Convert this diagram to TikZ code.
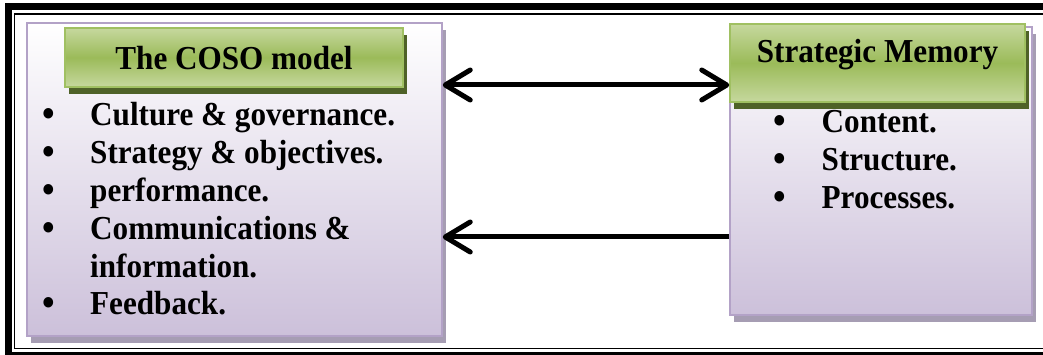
\documentclass[tikz,border=0pt]{standalone}
\usepackage{fontspec}
\setmainfont{Liberation Serif}[FakeStretch=0.93]
\usetikzlibrary{arrows.meta, shadows}

\newcommand\bul{\makebox[48pt][l]{\raisebox{-1pt}{\scalebox{1.15}{\textbullet}}}}

\begin{document}
\begin{tikzpicture}
  [x=1pt, y=-1pt,
    >={Straight Barb[length=25pt, width=30pt, round]},
    every node/.style={font=\fontsize{33.5}{37.8}\selectfont\bfseries}]

    \definecolor{lilac}{RGB}{204,192,218}
    \definecolor{lilacline}{RGB}{179,162,199}
    \definecolor{lilacshadow}{RGB}{166,157,179}
    \definecolor{leaf}{RGB}{155,187,89}
    \definecolor{leaflight}{RGB}{198,216,158}
    \definecolor{leafline}{RGB}{160,192,98}
    \definecolor{olive}{RGB}{79,98,40}

  \tikzset{
    box/.style={
      rectangle,
      draw=lilacline, line width=1.5pt,
      top color=white, bottom color=lilac,
      drop shadow={shadow xshift=4pt, shadow yshift=-7pt,
        fill=lilacshadow, opacity=1},
    },
    title/.style={
      rectangle,
      draw=leafline, line width=1.5pt,
      top color=leaflight, bottom color=leaflight, middle color=leaf,
      drop shadow={shadow xshift=4pt, shadow yshift=-7pt,
        fill=olive, opacity=1},
    },
    list/.style={anchor=base west, inner sep=0pt},
    link/.style={->, line width=5pt},
  }

  \useasboundingbox (0,0) rectangle (1043,355);

  % double frame
  \draw[line width=6.5pt] (8.5,6.5) rectangle (1060,355.5);
  \draw[line width=1.5pt] (14.5,14) rectangle (1060,348.5);

  \node[box, minimum width=415pt, minimum height=313pt] (coso) at (234.5,179.5) {};
  \node[title, minimum width=338pt, minimum height=59pt,
    text height=25pt, text depth=0pt] (cosotitle) at (234,57.5) {The COSO model};
  \node[list] (cosolist) at (42,126) {\begin{tabular}[t]{@{}l@{}}
    \bul Culture \& governance.\\
    \bul Strategy \& objectives.\\
    \bul performance.\\
    \bul Communications \&\\
    \hspace*{48pt}information.\\
    \bul Feedback.
  \end{tabular}};

  \node[box, minimum width=302pt, minimum height=288pt] (memory) at (881,171) {};
  \node[title, minimum width=295pt, minimum height=78pt,
    text height=22pt, text depth=22pt] (memtitle) at (877.5,63) {Strategic Memory};
  \node[list] (memlist) at (773.5,133) {\begin{tabular}[t]{@{}l@{}}
    \bul Content.\\
    \bul Structure.\\
    \bul Processes.
  \end{tabular}};

  \coordinate (upper) at (0,85);
  \coordinate (lower) at (0,237);
  \draw[link, <->] (coso.east |- upper) -- (memtitle.west |- upper);
  \draw[link] (memory.west |- lower) -- (coso.east |- lower);
\end{tikzpicture}
\end{document}
